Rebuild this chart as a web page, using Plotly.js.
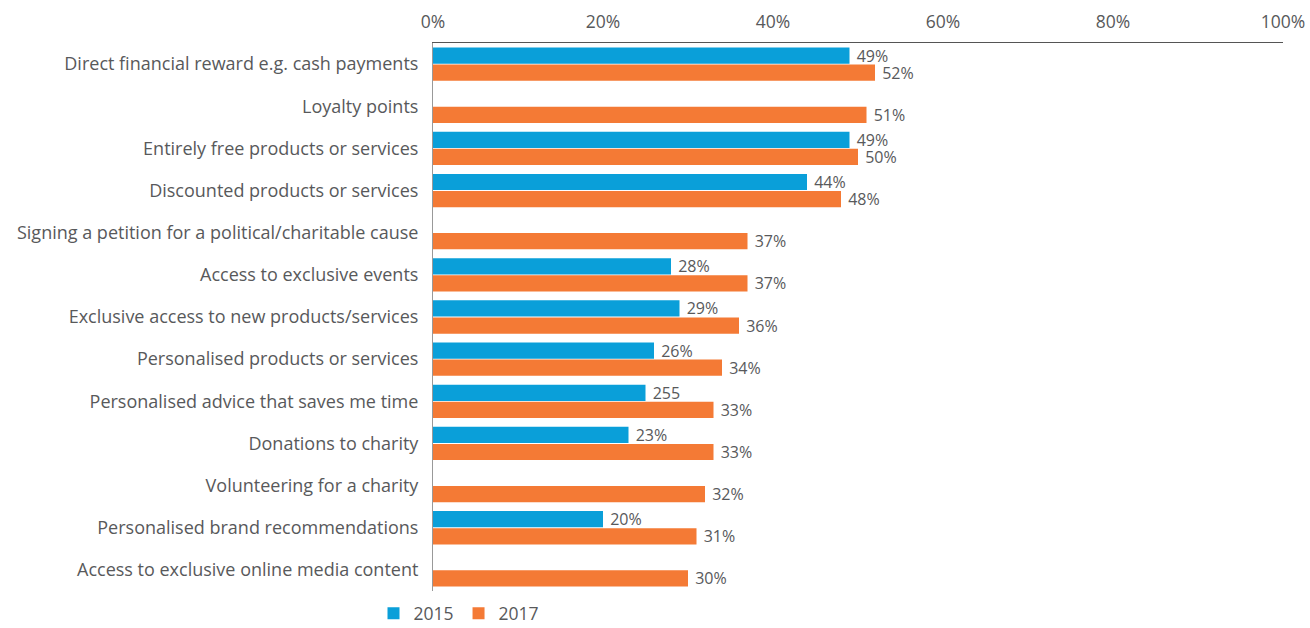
<!DOCTYPE html>
<html>
<head>
<meta charset="utf-8">
<script src="https://cdn.plot.ly/plotly-3.0.1.min.js"></script>
<style>html,body{margin:0;padding:0;background:#fff;}#chart{width:1310px;height:628px;}</style>
</head>
<body>
<div id="chart"></div>
<script>
const categories = [
  "Direct financial reward e.g. cash payments",
  "Loyalty points",
  "Entirely free products or services",
  "Discounted products or services",
  "Signing a petition for a political/charitable cause",
  "Access to exclusive events",
  "Exclusive access to new products/services",
  "Personalised products or services",
  "Personalised advice that saves me time",
  "Donations to charity",
  "Volunteering for a charity",
  "Personalised brand recommendations",
  "Access to exclusive online media content"
];
const values2015 = [49, null, 49, 44, null, 28, 29, 26, 25, 23, null, 20, null];
const labels2015 = ["49%", "", "49%", "44%", "", "28%", "29%", "26%", "255", "23%", "", "20%", ""];
const values2017 = [52, 51, 50, 48, 37, 37, 36, 34, 33, 33, 32, 31, 30];
const labels2017 = ["52%", "51%", "50%", "48%", "37%", "37%", "36%", "34%", "33%", "33%", "32%", "31%", "30%"];
const tickVals = [0, 20, 40, 60, 80, 100];
const tickText = ["0%", "20%", "40%", "60%", "80%", "100%"];

const FONT = "'Open Sans', 'Noto Sans', sans-serif";
const TXT = "#58595b";
const FS = 17.5;
const VFS = 16;

const traces = [
  {
    type: "bar", orientation: "h", name: "2015",
    y: categories, x: values2015, text: labels2015,
    texttemplate: " %{text}",
    textposition: "outside", cliponaxis: false, constraintext: "none",
    textfont: {family: FONT, size: VFS, color: TXT},
    marker: {color: "#0a9fd9"}
  },
  {
    type: "bar", orientation: "h", name: "2017",
    y: categories, x: values2017, text: labels2017,
    texttemplate: " %{text}",
    textposition: "outside", cliponaxis: false, constraintext: "none",
    textfont: {family: FONT, size: VFS, color: TXT},
    marker: {color: "#f47a35"}
  }
];

const layout = {
  width: 1310, height: 628,
  margin: {l: 433, r: 27, t: 43, b: 37, pad: 0, autoexpand: false},
  paper_bgcolor: "#fff", plot_bgcolor: "#fff",
  font: {family: FONT, size: FS, color: TXT},
  barmode: "group", bargap: 0.19, bargroupgap: 0.05,
  showlegend: true,
  legend: {orientation: "h", x: -0.07, xanchor: "left", y: -0.008, yanchor: "top",
           font: {family: FONT, size: FS, color: TXT}, traceorder: "normal",
           itemwidth: 30, tracegroupgap: 0},
  xaxis: {
    side: "top", range: [0, 100], tickvals: tickVals, ticktext: tickText,
    showgrid: false, zeroline: false, showline: true, linecolor: "#555", linewidth: 1.5,
    ticks: "", ticklabelstandoff: 7,
    tickfont: {family: FONT, size: FS, color: TXT}, fixedrange: true
  },
  yaxis: {
    type: "category", autorange: "reversed",
    showgrid: false, zeroline: false, showline: true, linecolor: "#999", linewidth: 1,
    ticks: "", ticklabelstandoff: 10,
    tickfont: {family: FONT, size: 18, color: TXT}, fixedrange: true
  }
};

Plotly.newPlot("chart", traces, layout, {displayModeBar: false, staticPlot: true});
</script>
</body>
</html>
